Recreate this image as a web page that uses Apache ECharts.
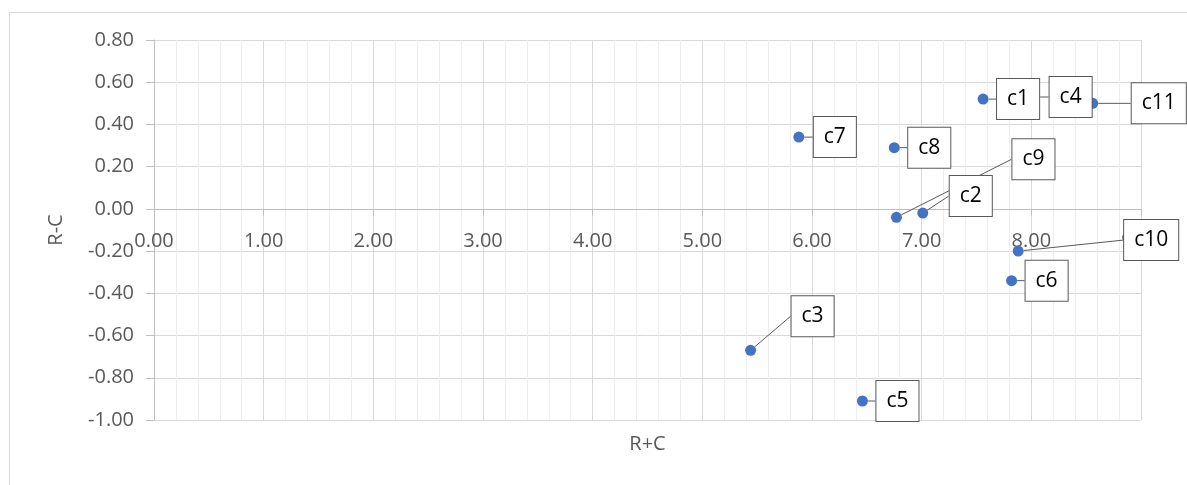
<!DOCTYPE html>
<html>
<head>
<meta charset="utf-8">
<script src="https://cdn.jsdelivr.net/npm/echarts@6/dist/echarts.min.js"></script>
<style>
html,body{margin:0;padding:0;background:#fff;}
#chart{width:1187px;height:485px;}
</style>
</head>
<body>
<div id="chart"></div>
<script>
// Data
const names = ['c1','c2','c3','c4','c5','c6','c7','c8','c9','c10','c11'];
const rPlusC = [7.56, 7.01, 5.44, 8.03, 6.46, 7.82, 5.88, 6.75, 6.77, 7.88, 8.56];
const rMinusC = [0.52, -0.02, -0.67, 0.53, -0.91, -0.34, 0.34, 0.29, -0.04, -0.20, 0.50];
const xTicks = [0, 1, 2, 3, 4, 5, 6, 7, 8, 9];
const yTicks = [-1.0, -0.8, -0.6, -0.4, -0.2, 0, 0.2, 0.4, 0.6, 0.8];

// label callout offsets (style, pixels)
const labelOffsets = {
  c1: [35, 0], c2: [48, -17], c3: [62, -34], c4: [36, 0], c5: [35, 0],
  c6: [35, 0], c7: [36, 0], c8: [35, 0], c9: [137, -58], c10: [133, -11], c11: [66, 0]
};

const points = names.map((n, i) => ({ name: n, value: [rPlusC[i], rMinusC[i]] }));
const FONT = '"Open Sans", "Liberation Sans", sans-serif';

const chart = echarts.init(document.getElementById('chart'), null, { renderer: 'canvas' });
chart.setOption({
  animation: false,
  backgroundColor: '#fff',
  graphic: [{
    type: 'rect', left: 7, top: 10, z: -10,
    shape: { width: 1300, height: 600 },
    style: { fill: 'none', stroke: '#d9d9d9', lineWidth: 1 }
  }],
  grid: { left: 154, top: 40, right: 46, bottom: 65, containLabel: false, outerBoundsMode: 'none' },
  xAxis: {
    type: 'value', min: xTicks[0], max: xTicks[xTicks.length - 1], interval: 1,
    position: 'bottom', offset: 0,
    name: 'R+C', nameLocation: 'middle', nameGap: 225,
    nameTextStyle: { color: '#595959', fontSize: 20, fontFamily: FONT },
    axisLine: { show: true, onZero: false, lineStyle: { color: '#bfbfbf', width: 1 } },
    axisTick: { show: true, inside: false, length: 7, lineStyle: { color: '#bfbfbf' } },
    axisLabel: { color: '#595959', fontSize: 20, fontFamily: FONT, margin: 22,
      formatter: v => v.toFixed(2) },
    splitLine: { show: true, lineStyle: { color: '#d9d9d9', width: 1 } },
    minorTick: { show: false, splitNumber: 5 },
    minorSplitLine: { show: true, lineStyle: { color: '#eeeeee', width: 1 } }
  },
  yAxis: {
    type: 'value', min: yTicks[0], max: yTicks[yTicks.length - 1], interval: 0.2,
    name: 'R-C', nameLocation: 'middle', nameGap: 88, nameRotate: 90,
    nameTextStyle: { color: '#595959', fontSize: 20, fontFamily: FONT },
    axisLine: { show: true, onZero: false, lineStyle: { color: '#bfbfbf', width: 1 } },
    axisTick: { show: true, inside: false, length: 8, lineStyle: { color: '#bfbfbf' } },
    axisLabel: { color: '#595959', fontSize: 20, fontFamily: FONT, margin: 20,
      formatter: v => v.toFixed(2) },
    splitLine: { show: true, lineStyle: { color: '#d9d9d9', width: 1 } }
  },
  series: [{
    type: 'scatter',
    data: points,
    symbol: 'circle',
    symbolSize: 11,
    itemStyle: { color: '#4472C4', opacity: 1 },
    label: {
      show: true, position: 'inside', formatter: '{b}',
      color: '#000', fontSize: 21, fontFamily: FONT, lineHeight: 22,
      backgroundColor: '#fff', borderColor: '#595959', borderWidth: 1,
      padding: [9, 10]
    },
    labelLine: { show: true, lineStyle: { color: '#595959', width: 1 } },
    labelLayout: function (params) {
      const o = labelOffsets[names[params.dataIndex]];
      return { dx: o[0], dy: o[1] };
    }
  }]
});

// Excel draws the horizontal axis where R-C = 0: move the x axis up to the zero line
const zeroY = chart.convertToPixel({ yAxisIndex: 0 }, 0);
const minY = chart.convertToPixel({ yAxisIndex: 0 }, yTicks[0]);
chart.setOption({ xAxis: { offset: -(minY - zeroY) } });
</script>
</body>
</html>
